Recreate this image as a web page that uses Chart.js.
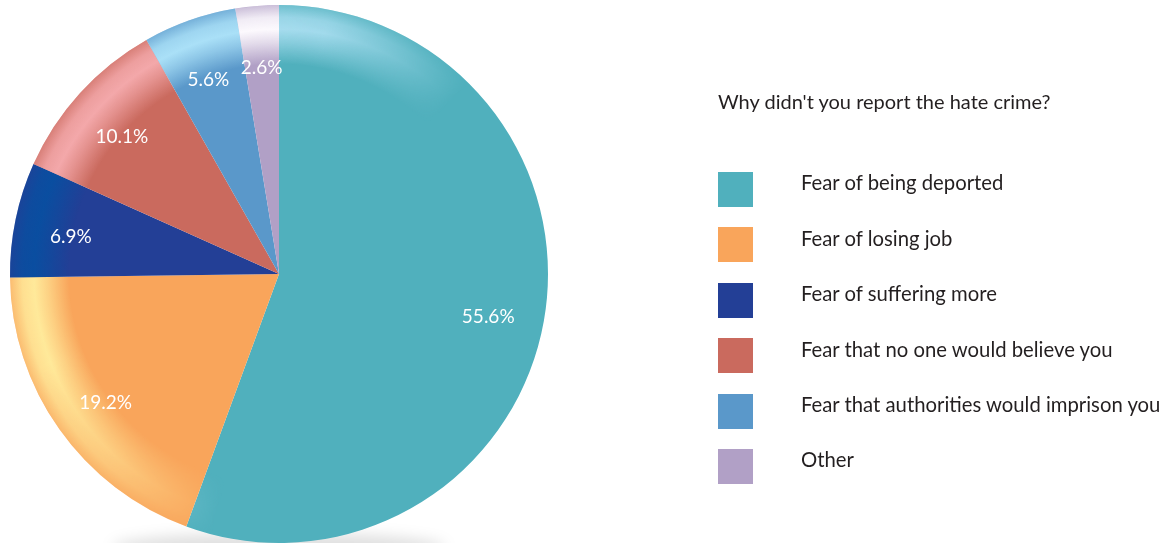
<!DOCTYPE html>
<html>
<head>
<meta charset="utf-8">
<script src="https://cdn.jsdelivr.net/npm/chart.js@4/dist/chart.umd.min.js"></script>
<style>
  html, body { margin: 0; padding: 0; background: #ffffff; overflow: hidden; }
  #wrap { position: relative; width: 1165px; height: 543px; }
  #pie { position: absolute; left: 0; top: 0; }
  .legend-title, .legend-text {
    position: absolute; white-space: nowrap; color: #231f20;
    font-family: Lato, "Open Sans", sans-serif; line-height: 1;
  }
  .legend-title { left: 718px; font-size: 20px; }
  .legend-text { left: 801px; font-size: 20.3px; }
  .legend-box { position: absolute; left: 718px; width: 35px; height: 35px; }
</style>
</head>
<body>
<div id="wrap">
  <canvas id="pie" width="1165" height="543"></canvas>
</div>
<script>
// Survey answers: reasons for not reporting a hate crime (percent of respondents)
const chartTitle = "Why didn't you report the hate crime?";
const categories = [
  'Fear of being deported',
  'Fear of losing job',
  'Fear of suffering more',
  'Fear that no one would believe you',
  'Fear that authorities would imprison you',
  'Other'
];
const shares = [55.6, 19.2, 6.9, 10.1, 5.6, 2.6];

// Slice fills and the lighter tint used for the glossy rim band
const sliceColors = ['#50b0bd', '#f9a55b', '#233f96', '#ca6a5e', '#5a98ca', '#b1a0c6'];
const sheenColors = ['166,220,238', '255,233,154', '10,78,160', '243,168,170', '170,224,247', '252,249,253'];

// Soft grey shadow under the pie
const pieShadow = {
  id: 'pieShadow',
  beforeDatasetsDraw(chart) {
    const arc = chart.getDatasetMeta(0).data[0];
    if (!arc) return;
    const { x, y, outerRadius: R } = arc.getProps(['x', 'y', 'outerRadius'], true);
    const ctx = chart.ctx;
    ctx.save();
    ctx.filter = 'blur(7px)';
    ctx.fillStyle = 'rgba(0,0,0,0.12)';
    ctx.beginPath();
    ctx.ellipse(x, y + R + 4, R * 0.62, 14, 0, 0, Math.PI * 2);
    ctx.fill();
    ctx.restore();
  }
};

// Glossy band just inside the rim, lit from the upper left
const rimSheen = {
  id: 'rimSheen',
  afterDatasetsDraw(chart) {
    const meta = chart.getDatasetMeta(0);
    const ctx = chart.ctx;
    const W = chart.width, H = chart.height;
    meta.data.forEach((arc, i) => {
      const p = arc.getProps(['x', 'y', 'startAngle', 'endAngle', 'outerRadius'], true);
      const { x, y, startAngle, endAngle } = p;
      const R = p.outerRadius;
      const off = document.createElement('canvas');
      off.width = W; off.height = H;
      const o = off.getContext('2d');
      const c = sheenColors[i];
      const rg = o.createRadialGradient(x, y, 0, x, y, R);
      rg.addColorStop(0, `rgba(${c},0)`);
      rg.addColorStop(0.78, `rgba(${c},0)`);
      rg.addColorStop(0.86, `rgba(${c},0.65)`);
      rg.addColorStop(0.91, `rgba(${c},1)`);
      rg.addColorStop(0.955, `rgba(${c},0.85)`);
      rg.addColorStop(1, `rgba(${c},0.35)`);
      o.fillStyle = rg;
      o.beginPath();
      o.moveTo(x, y);
      o.arc(x, y, R, startAngle, endAngle);
      o.closePath();
      o.fill();
      if (o.createConicGradient) {
        o.globalCompositeOperation = 'destination-in';
        const cg = o.createConicGradient(-Math.PI / 2, x, y);
        cg.addColorStop(0, 'rgba(0,0,0,1)');
        cg.addColorStop(0.03, 'rgba(0,0,0,0.95)');
        cg.addColorStop(0.08, 'rgba(0,0,0,0.45)');
        cg.addColorStop(0.125, 'rgba(0,0,0,0)');
        cg.addColorStop(0.54, 'rgba(0,0,0,0)');
        cg.addColorStop(0.62, 'rgba(0,0,0,0.6)');
        cg.addColorStop(0.69, 'rgba(0,0,0,1)');
        cg.addColorStop(1, 'rgba(0,0,0,1)');
        o.fillStyle = cg;
        o.fillRect(0, 0, W, H);
      }
      ctx.drawImage(off, 0, 0);
    });
  }
};

// Percentage labels inside each slice
const sliceLabels = {
  id: 'sliceLabels',
  afterDatasetsDraw(chart) {
    const meta = chart.getDatasetMeta(0);
    const values = chart.data.datasets[0].data;
    const ctx = chart.ctx;
    ctx.save();
    ctx.fillStyle = '#ffffff';
    ctx.font = '19px Lato, "Open Sans", sans-serif';
    ctx.textAlign = 'center';
    ctx.textBaseline = 'middle';
    meta.data.forEach((arc, i) => {
      const p = arc.getProps(['x', 'y', 'startAngle', 'endAngle', 'outerRadius'], true);
      const mid = (p.startAngle + p.endAngle) / 2;
      const r = p.outerRadius * 0.79;
      ctx.fillText(values[i].toFixed(1) + '%', p.x + Math.cos(mid) * r, p.y + Math.sin(mid) * r + 6);
    });
    ctx.restore();
  }
};

new Chart(document.getElementById('pie'), {
  type: 'pie',
  data: {
    labels: categories,
    datasets: [{
      data: shares,
      backgroundColor: sliceColors,
      borderWidth: 0,
      hoverOffset: 0
    }]
  },
  options: {
    responsive: false,
    animation: false,
    devicePixelRatio: 1,
    layout: { padding: { left: 10, top: 5, right: 617, bottom: 0 } },
    plugins: {
      legend: { display: false },
      tooltip: { enabled: false },
      title: { display: false }
    },
    events: []
  },
  plugins: [pieShadow, rimSheen, sliceLabels]
});

// Legend on the right: title, colour squares and category names
const wrap = document.getElementById('wrap');
const titleEl = document.createElement('div');
titleEl.className = 'legend-title';
titleEl.textContent = chartTitle;
titleEl.style.top = (108 - 20 * 0.87) + 'px';
wrap.appendChild(titleEl);
categories.forEach((name, i) => {
  const top = 172 + i * 55.4;
  const box = document.createElement('div');
  box.className = 'legend-box';
  box.style.top = top + 'px';
  box.style.background = sliceColors[i];
  wrap.appendChild(box);
  const txt = document.createElement('div');
  txt.className = 'legend-text';
  txt.textContent = name;
  txt.style.top = (top + 18 - 20.3 * 0.87) + 'px';
  wrap.appendChild(txt);
});
</script>
</body>
</html>
